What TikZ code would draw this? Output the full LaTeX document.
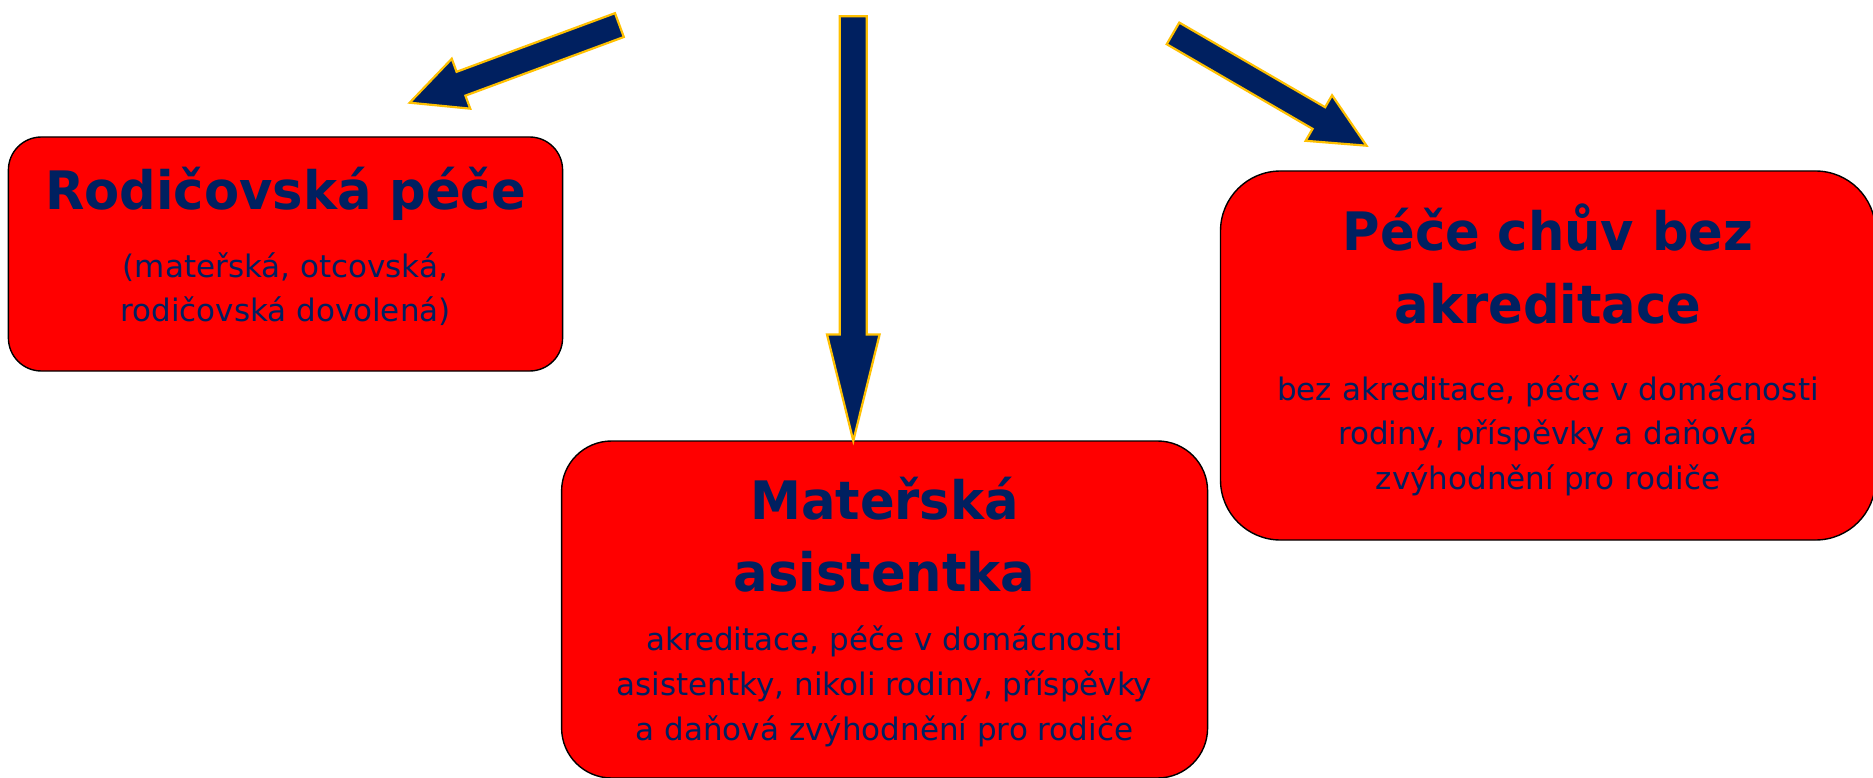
\documentclass[tikz,border=0pt]{standalone}
\usepackage{fontspec}
\setmainfont{DejaVu Sans}
\newfontfamily\ttlfont{DejaVu Sans}[FakeStretch=0.965]
\usetikzlibrary{calc}
\definecolor{navy}{RGB}{0,32,96}
\definecolor{gold}{RGB}{255,192,0}
\definecolor{boxred}{RGB}{255,0,0}
\tikzset{
  box/.style={draw=black, line width=1.4pt, fill=boxred, rounded corners=#1, inner sep=0pt, rectangle},
  ttl/.style={anchor=base, inner sep=0pt, text=navy, font=\ttlfont\bfseries\fontsize{53}{63}\selectfont},
  body/.style={anchor=base, inner sep=0pt, text=navy, font=\fontsize{31}{45}\selectfont},
  blk/.style={fill=navy, draw=gold, line width=2.2pt, line join=miter}
}
% #1 tail, #2 tip, #3 head length, #4 head half width, #5 shaft half width
\newcommand\blkarrow[5]{%
  \coordinate (hb) at ($(#2)!#3!(#1)$);
  \draw[blk] ($(#1)!#5!90:(#2)$) -- ($(hb)!#5!-90:(#1)$) -- ($(hb)!#4!-90:(#1)$)
    -- (#2) -- ($(hb)!#4!90:(#1)$) -- ($(hb)!#5!90:(#1)$) -- ($(#1)!#5!-90:(#2)$) -- cycle;
}
\begin{document}
\begin{tikzpicture}[x=1pt,y=-1pt]
\useasboundingbox (0,0) rectangle (1873,778);
\clip (0,0) rectangle (1873,778);
% boxes
\node[box=33pt, minimum width=554.2pt, minimum height=234pt] (b1) at (285.5,254) {};
\node[box=50pt, minimum width=646pt, minimum height=337pt] (b2) at (884.6,609.5) {};
\node[box=60pt, minimum width=655pt, minimum height=369pt] (b3) at (1548,355.5) {};
% box 1 texts
\node[ttl] (b1t) at (285.5,210) {Rodičovská péče};
\node[body] (b1a) at (285.5,277) {(mateřská, otcovská,};
\node[body] (b1b) at (285.5,321) {rodičovská dovolená)};
% box 2 texts
\node[ttl] (b2t) at (884.5,519.5) {Mateřská};
\node[ttl] (b2u) at (884.5,591) {asistentka};
\node[body] (b2a) at (884.5,650) {akreditace, péče v domácnosti};
\node[body] (b2b) at (884.5,695) {asistentky, nikoli rodiny, příspěvky};
\node[body] (b2c) at (884.5,740) {a daňová zvýhodnění pro rodiče};
% box 3 texts
\node[ttl] (b3t) at (1548,250) {Péče chův bez};
\node[ttl] (b3u) at (1548,323) {akreditace};
\node[body] (b3a) at (1548,400) {bez akreditace, péče v domácnosti};
\node[body] (b3b) at (1548,444) {rodiny, příspěvky a daňová};
\node[body] (b3c) at (1548,489) {zvýhodnění pro rodiče};
% arrows
\coordinate (tl) at (619.4,25.1);
\coordinate (pl) at (409.7,102.7);
\coordinate (tm) at (853.3,16.2);
\coordinate (pm) at (853.3,440.8);
\coordinate (tr) at (1173,33.4);
\coordinate (pr) at (1366.5,145.7);
\blkarrow{tl}{pl}{54.7pt}{26.6pt}{12.7pt}
\blkarrow{tm}{pm}{106.3pt}{26.3pt}{13.5pt}
\blkarrow{tr}{pr}{55.1pt}{26.3pt}{12.5pt}
\end{tikzpicture}
\end{document}
